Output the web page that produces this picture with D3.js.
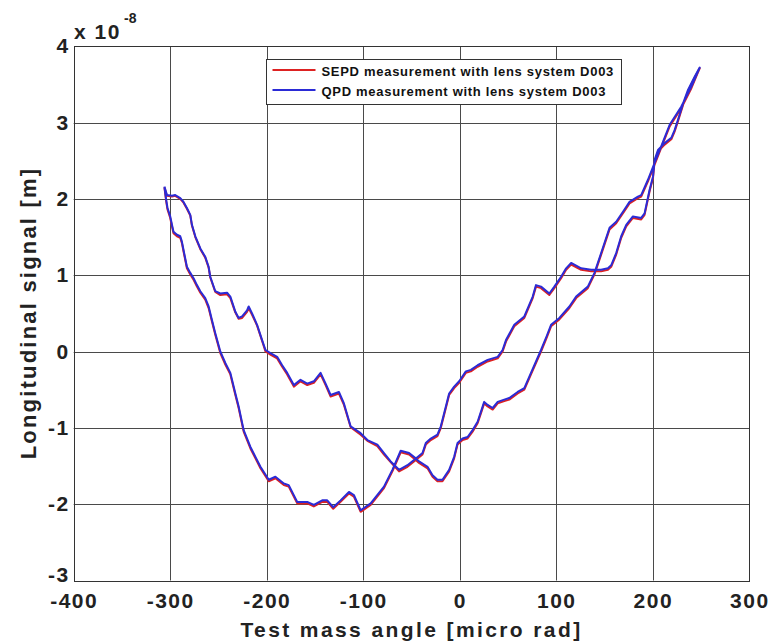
<!DOCTYPE html>
<html>
<head>
<meta charset="utf-8">
<script src="https://cdn.jsdelivr.net/npm/d3@7"></script>
<style>
  body { margin: 0; background: #fff; }
  text { font-family: "Liberation Sans", Arial, Helvetica, sans-serif; font-weight: bold; }
</style>
</head>
<body>
<script>
// hysteresis loop: angle in micro rad, signal in units of 1e-8 m
// one point per row, in traversal order
var angle = [
  -306, -303.4, -298.2, -294.8, -289.6, -286.2, -282.7, -279.2, -277.5, -274,
  -268.8, -263.7, -260.2, -258.5, -253.3, -248.1, -241.1, -237.7, -232.5, -229.1,
  -225.5, -220.4, -218.7, -215.2, -210, -204.8, -201.3, -196.2, -189.2, -184,
  -178.8, -171.9, -165, -158, -151.2, -144.2, -139, -133.8, -125.2, -120,
  -113.1, -102.7, -95.7, -85.4, -78.5, -71.6, -62.9,
  -54.2, -47.4, -38.6, -35.2, -30, -23.1, -19.6, -14.4, -11, -5.8,
  -0.6, 6.3, 11.5, 18.5, 28.9, 39.3, 44.4, 47.9, 56.5, 66.9,
  75.6, 79, 84.2, 92.8, 98, 105, 110.2, 115.4, 125.8, 136.1,
  146.5, 153.5, 156.9, 162.1, 167.3, 172.5, 179.4, 188, 191.5, 196.7,
  200.2, 201.9, 205.4, 212.3, 219.2, 222.6, 226.2, 231.4, 236.6, 243.4, 248.6,
  246.9, 240, 229.6, 217.5, 208.8, 201.9, 195, 188, 184.6, 175.9,
  170.7, 162.1, 155.2, 146.5, 139.6, 132.7, 120.6, 113.6, 103.2, 94.6,
  90, 84.2, 73.8, 66.9, 60, 51.3, 46.1, 39.3, 34.1, 28.9,
  25.3, 21.9, 18.5, 13.3, 8.1, 2.9, -2.3, -5.8, -11, -17.9,
  -23.1, -28.2, -33.4, -42.2, -45.6, -52.5, -61.2,
  -69.8, -78.5, -92.3, -102.7, -109.7, -114.8, -123.5, -131.1, -137.3, -142.5,
  -151.2, -158, -168.4, -177.2, -182.3, -191, -197.9, -206.5, -211.7, -216.9,
  -223.9, -229.1, -232.5, -237.7, -242.9, -248.1, -253.3, -256.7, -260.2, -263.7,
  -268.8, -272.3, -275.8, -279.2, -282.7, -286.2, -287.9, -289.6, -293, -296.6,
  -298.2, -300, -302.8, -304.2, -306
];

var qpd = [
  2.16, 2.05, 2.04, 2.05, 2.01, 1.96, 1.88, 1.79, 1.66, 1.51,
  1.35, 1.24, 1.11, 0.98, 0.79, 0.76, 0.77, 0.72, 0.52, 0.44,
  0.46, 0.54, 0.59, 0.50, 0.35, 0.15, 0.02, -0.02, -0.07, -0.18,
  -0.28, -0.44, -0.37, -0.42, -0.39, -0.28, -0.42, -0.57, -0.53, -0.68,
  -0.98, -1.07, -1.16, -1.22, -1.33, -1.44, -1.55,
  -1.49, -1.42, -1.33, -1.20, -1.14, -1.09, -0.98, -0.72, -0.55, -0.46,
  -0.39, -0.26, -0.24, -0.18, -0.11, -0.07, 0.02, 0.15, 0.35, 0.46,
  0.72, 0.87, 0.85, 0.76, 0.85, 0.98, 1.09, 1.16, 1.09, 1.07,
  1.07, 1.09, 1.13, 1.29, 1.51, 1.66, 1.77, 1.75, 1.81, 2.12,
  2.29, 2.51, 2.64, 2.73, 2.80, 2.90, 3.04, 3.25, 3.43, 3.60, 3.72,
  3.67, 3.47, 3.21, 2.97, 2.69, 2.47, 2.25, 2.05, 2.03, 1.96,
  1.86, 1.70, 1.62, 1.29, 1.03, 0.85, 0.72, 0.59, 0.44, 0.35,
  0.20, 0.02, -0.28, -0.48, -0.53, -0.61, -0.63, -0.66, -0.74, -0.70,
  -0.66, -0.79, -0.92, -1.03, -1.12, -1.14, -1.20, -1.38, -1.55, -1.68,
  -1.68, -1.62, -1.51, -1.44, -1.40, -1.33, -1.30,
  -1.55, -1.77, -1.99, -2.08, -1.88, -1.84, -1.95, -2.04, -1.95, -1.95,
  -2.01, -1.97, -1.97, -1.75, -1.73, -1.64, -1.68, -1.51, -1.38, -1.25,
  -1.03, -0.72, -0.55, -0.28, -0.15, 0.00, 0.24, 0.41, 0.59, 0.70,
  0.79, 0.87, 0.96, 1.03, 1.11, 1.33, 1.44, 1.51, 1.53, 1.57,
  1.66, 1.77, 1.88, 1.99, 2.16
];

// SEPD sits almost on top of QPD, a hair lower in places
var sepd = [
  2.15, 2.04, 2.03, 2.04, 2.00, 1.95, 1.87, 1.78, 1.65, 1.50,
  1.34, 1.23, 1.10, 0.97, 0.78, 0.74, 0.75, 0.70, 0.51, 0.43,
  0.44, 0.52, 0.57, 0.48, 0.34, 0.14, 0.00, -0.04, -0.09, -0.20,
  -0.30, -0.46, -0.39, -0.44, -0.41, -0.30, -0.44, -0.59, -0.55, -0.70,
  -0.99, -1.09, -1.17, -1.24, -1.35, -1.45, -1.57,
  -1.51, -1.44, -1.35, -1.22, -1.16, -1.11, -1.00, -0.74, -0.57, -0.48,
  -0.41, -0.28, -0.26, -0.20, -0.13, -0.09, 0.00, 0.13, 0.33, 0.44,
  0.70, 0.85, 0.83, 0.74, 0.83, 0.96, 1.07, 1.14, 1.07, 1.05,
  1.05, 1.07, 1.11, 1.27, 1.49, 1.64, 1.75, 1.73, 1.79, 2.10,
  2.27, 2.49, 2.62, 2.71, 2.78, 2.88, 3.02, 3.23, 3.41, 3.59, 3.71,
  3.66, 3.45, 3.19, 2.95, 2.67, 2.45, 2.23, 2.03, 2.01, 1.94,
  1.84, 1.68, 1.60, 1.27, 1.01, 0.83, 0.70, 0.57, 0.42, 0.33,
  0.18, 0.00, -0.30, -0.50, -0.55, -0.63, -0.65, -0.68, -0.76, -0.72,
  -0.68, -0.81, -0.94, -1.05, -1.14, -1.16, -1.22, -1.40, -1.57, -1.70,
  -1.70, -1.64, -1.53, -1.46, -1.42, -1.35, -1.32,
  -1.57, -1.79, -2.01, -2.10, -1.90, -1.86, -1.97, -2.06, -1.97, -1.97,
  -2.03, -1.99, -1.99, -1.77, -1.75, -1.66, -1.70, -1.53, -1.40, -1.27,
  -1.05, -0.74, -0.57, -0.30, -0.17, -0.02, 0.22, 0.39, 0.57, 0.68,
  0.77, 0.85, 0.94, 1.01, 1.09, 1.31, 1.42, 1.49, 1.51, 1.55,
  1.64, 1.75, 1.86, 1.97, 2.15
];

var xTicks = [-400, -300, -200, -100, 0, 100, 200, 300];
var yTicks = [-3, -2, -1, 0, 1, 2, 3, 4];
var legendLabels = ['SEPD measurement with lens system D003', 'QPD measurement with lens system D003'];
var seriesColors = ['#dd2222', '#2b2bd6'];

var width = 773, height = 641;
var margin = {top: 46.2, right: 23.7, bottom: 60.5, left: 73.7};
var ink = '#222';

var svg = d3.select('body').append('svg')
    .attr('width', width)
    .attr('height', height);

var xScale = d3.scaleLinear().domain([-400, 300]).range([margin.left, width - margin.right]);
var yScale = d3.scaleLinear().domain([-3, 4]).range([height - margin.bottom, margin.top]);

// grid lines
svg.append('g').selectAll('line')
    .data(xTicks.slice(1, -1)).enter().append('line')
    .attr('x1', d => Math.round(xScale(d)) + 0.5).attr('x2', d => Math.round(xScale(d)) + 0.5)
    .attr('y1', yScale(4)).attr('y2', yScale(-3))
    .attr('stroke', '#4a4a4a').attr('stroke-width', 1);

svg.append('g').selectAll('line')
    .data(yTicks.slice(1, -1)).enter().append('line')
    .attr('y1', d => Math.round(yScale(d)) + 0.5).attr('y2', d => Math.round(yScale(d)) + 0.5)
    .attr('x1', xScale(-400)).attr('x2', xScale(300))
    .attr('stroke', '#4a4a4a').attr('stroke-width', 1);

// axes give the labels only, the box is drawn separately
var xAxis = svg.append('g')
    .attr('transform', 'translate(0,' + yScale(-3) + ')')
    .call(d3.axisBottom(xScale).tickValues(xTicks).tickFormat(d => String(d)).tickSize(0).tickPadding(12.5));
var yAxis = svg.append('g')
    .attr('transform', 'translate(' + xScale(-400) + ',0)')
    .call(d3.axisLeft(yScale).tickValues(yTicks).tickFormat(d => String(d)).tickSize(0).tickPadding(4));

[xAxis, yAxis].forEach(function(ax){
    ax.select('.domain').remove();
    ax.selectAll('text')
        .attr('font-family', '"Liberation Sans", Arial, sans-serif')
        .attr('font-weight', 'bold')
        .attr('font-size', 21)
        .attr('letter-spacing', 1.5)
        .attr('fill', ink);
});

// bottom y label sits right on top of the first x label, lift it a little
yAxis.selectAll('.tick').filter(d => d === -3).select('text').attr('dy', '0.05em');

// plot box
svg.append('rect')
    .attr('x', Math.round(xScale(-400)) + 0.5).attr('y', Math.round(yScale(4)) + 0.5)
    .attr('width', Math.round(xScale(300)) - Math.round(xScale(-400)))
    .attr('height', Math.round(yScale(-3)) - Math.round(yScale(4)))
    .attr('fill', 'none').attr('stroke', '#333').attr('stroke-width', 1);

// the two traces, red below blue
var line = d3.line().x(d => xScale(d[0])).y(d => yScale(d[1]));
var traces = [sepd, qpd];
traces.forEach(function(ys, i){
    var pts = angle.map(function(a, j){ return [a, ys[j]]; });
    svg.append('path')
        .attr('d', line(pts))
        .attr('fill', 'none')
        .attr('stroke', seriesColors[i])
        .attr('stroke-width', 2)
        .attr('stroke-linejoin', 'round');
});

// exponent label
svg.append('text').attr('x', 74).attr('y', 39)
    .attr('font-size', 21).attr('letter-spacing', 1.5).attr('fill', ink).text('x 10');
svg.append('text').attr('x', 124).attr('y', 23)
    .attr('font-size', 14).attr('fill', ink).text('-8');

// axis titles
svg.append('text')
    .attr('x', (xScale(-400) + xScale(300)) / 2).attr('y', 637)
    .attr('text-anchor', 'middle').attr('font-size', 21).attr('letter-spacing', 2.4).attr('fill', ink)
    .text('Test mass angle [micro rad]');

svg.append('text')
    .attr('transform', 'translate(36,' + 313 + ') rotate(-90)')
    .attr('text-anchor', 'middle').attr('font-size', 22).attr('letter-spacing', 2.2).attr('fill', ink)
    .text('Longitudinal signal [m]');

// legend
var legend = svg.append('g').attr('transform', 'translate(266.5,59.5)');
legend.append('rect').attr('width', 355).attr('height', 45)
    .attr('fill', '#fff').attr('stroke', '#333').attr('stroke-width', 1);
legendLabels.forEach(function(lbl, i){
    legend.append('line')
        .attr('x1', 6).attr('x2', 49)
        .attr('y1', 10.5 + i * 20).attr('y2', 10.5 + i * 20)
        .attr('stroke', seriesColors[i]).attr('stroke-width', 2);
    legend.append('text')
        .attr('x', 55).attr('y', 16 + i * 20)
        .attr('font-size', 13).attr('letter-spacing', 0.7).attr('fill', '#111')
        .text(lbl);
});
</script>
</body>
</html>
